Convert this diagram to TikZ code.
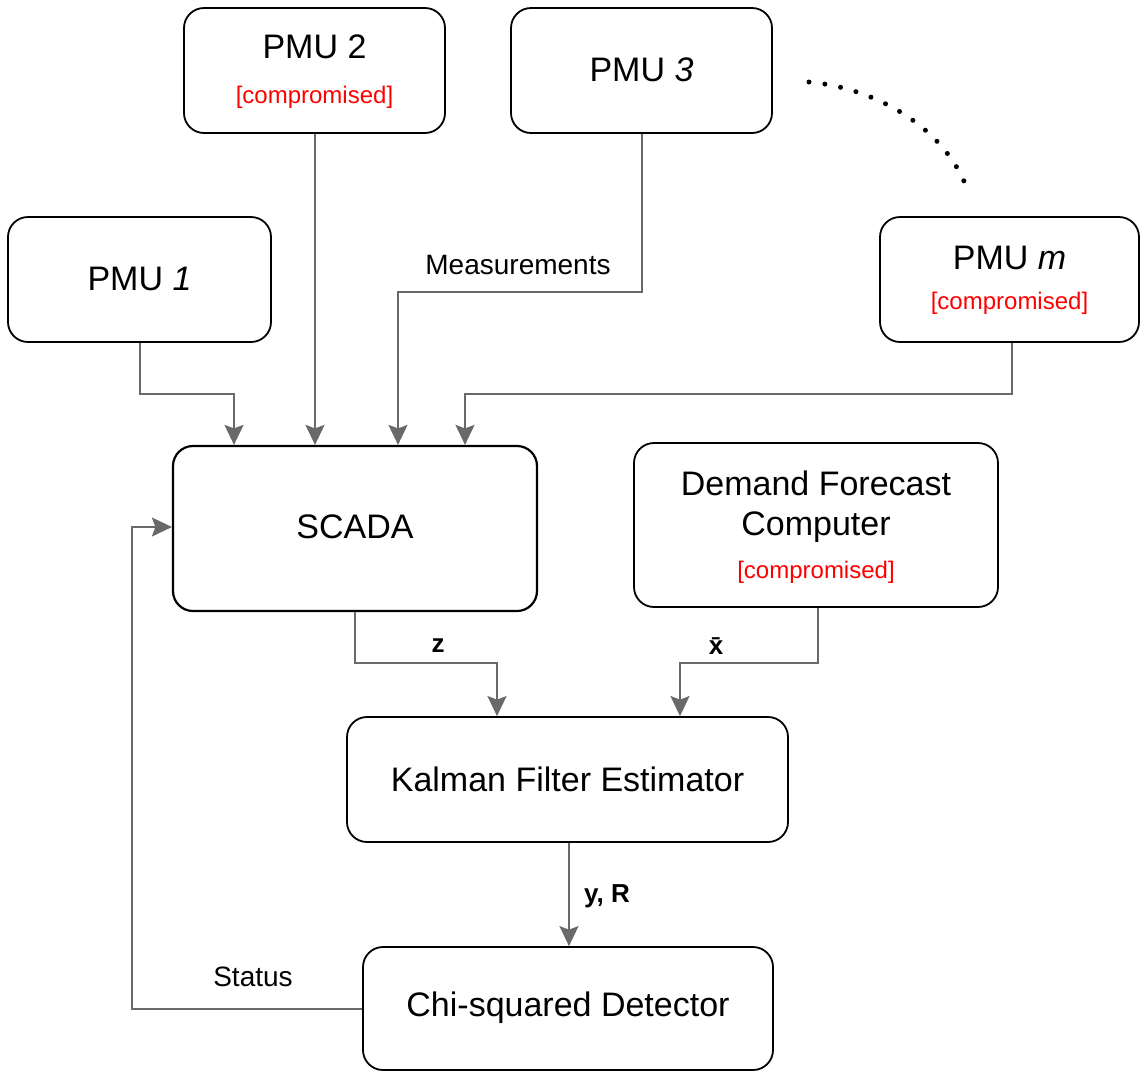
\documentclass[tikz,border=0pt]{standalone}
\usepackage{fontspec}
\setmainfont{Liberation Sans}
\usetikzlibrary{arrows.meta,calc}
\definecolor{conncol}{RGB}{105,105,105}
\definecolor{compred}{RGB}{255,0,0}
\begin{document}
\begin{tikzpicture}[x=1pt,y=-1pt,
  box/.style={draw=black,line width=1.8pt,rounded corners=20pt,fill=white,inner sep=0pt},
  main/.style={font=\fontsize{34}{40}\selectfont,inner sep=0pt},
  comp/.style={font=\fontsize{24}{28}\selectfont,text=compred,inner sep=0pt},
  lab/.style={font=\fontsize{28}{32}\selectfont,inner sep=0pt},
  blab/.style={font=\fontsize{26}{30}\selectfont\bfseries,inner sep=0pt},
  conn/.style={draw=conncol,line width=2pt,-{Stealth[length=20pt,width=19pt,inset=3.5pt]}},
  plain/.style={draw=conncol,line width=2pt}]
\useasboundingbox (0,0) rectangle (1141,1072);

% boxes
\node[box,minimum width=263pt,minimum height=125pt] (pmu1) at (139.5,279.5) {};
\node[box,minimum width=261pt,minimum height=125pt] (pmu2) at (314.5,70.5) {};
\node[box,minimum width=261pt,minimum height=125pt] (pmu3) at (641.5,70.5) {};
\node[box,minimum width=259pt,minimum height=125pt] (pmum) at (1009.5,279.5) {};
\node[box,line width=2.2pt,minimum width=364pt,minimum height=165pt] (scada) at (355,528.5) {};
\node[box,minimum width=364pt,minimum height=164pt] (dfc) at (816,525) {};
\node[box,minimum width=441pt,minimum height=125pt] (kal) at (567.5,779.5) {};
\node[box,minimum width=410pt,minimum height=123pt] (chi) at (568,1008.5) {};

% texts
\node[main] (t1) at (139.5,279) {PMU \textit{1}};
\node[main] (t2) at (314.5,47) {PMU 2};
\node[comp] (c2) at (314.5,97) {[compromised]};
\node[main] (t3) at (641.5,70) {PMU \textit{3}};
\node[main] (tm) at (1009.5,258) {PMU \textit{m}};
\node[comp] (cm) at (1009.5,303) {[compromised]};
\node[main] (ts) at (355,527) {SCADA};
\node[main] (td1) at (816,483) {Demand Forecast};
\node[main] (td2) at (816,527) {Computer};
\node[comp] (cd) at (816,572) {[compromised]};
\node[main] (tk) at (567.5,779) {Kalman Filter Estimator};
\node[main] (tc) at (568,1008) {Chi-squared Detector};

% connectors
\draw[conn] (pmu1.south) -- ++(0,51) -| ([xshift=-121pt]scada.north);
\draw[conn] ([xshift=0.5pt]pmu2.south) -- ([xshift=-40pt]scada.north);
\draw[conn] (pmu3.south) -- ++(0,158) -| ([xshift=43pt]scada.north);
\draw[conn] ([xshift=2.5pt]pmum.south) -- ++(0,51) -| ([xshift=110pt]scada.north);
\draw[conn] (scada.south) -- ++(0,51) -| ([xshift=-70.5pt]kal.north);
\draw[conn] ([xshift=2pt]dfc.south) -- ++(0,55) -| ([xshift=112.5pt]kal.north);
\draw[conn,line width=1.6pt] ([xshift=1.5pt]kal.south) -- ([xshift=1pt]chi.north);
\coordinate (loopB) at (132,527);
\draw[conn] (chi.west) -| (loopB) -- (loopB -| scada.west);

% labels
\node[lab] (lmeas) at (518,265) {Measurements};
\node[lab] (lstat) at (253,977) {Status};
\node[blab] (lz) at (438,646) {z};
\node[blab] (lx) at (716,646) {x̄};
\node[blab] (lyr) at (607,896) {y, R};

% dotted arc
\coordinate (dA) at (809,82);
\coordinate (dB) at (966,186);
\draw[line width=5pt,line cap=round,dash pattern=on 0pt off 16pt] (dA) .. controls (875,88) and (942,126) .. (dB);
\end{tikzpicture}
\end{document}
